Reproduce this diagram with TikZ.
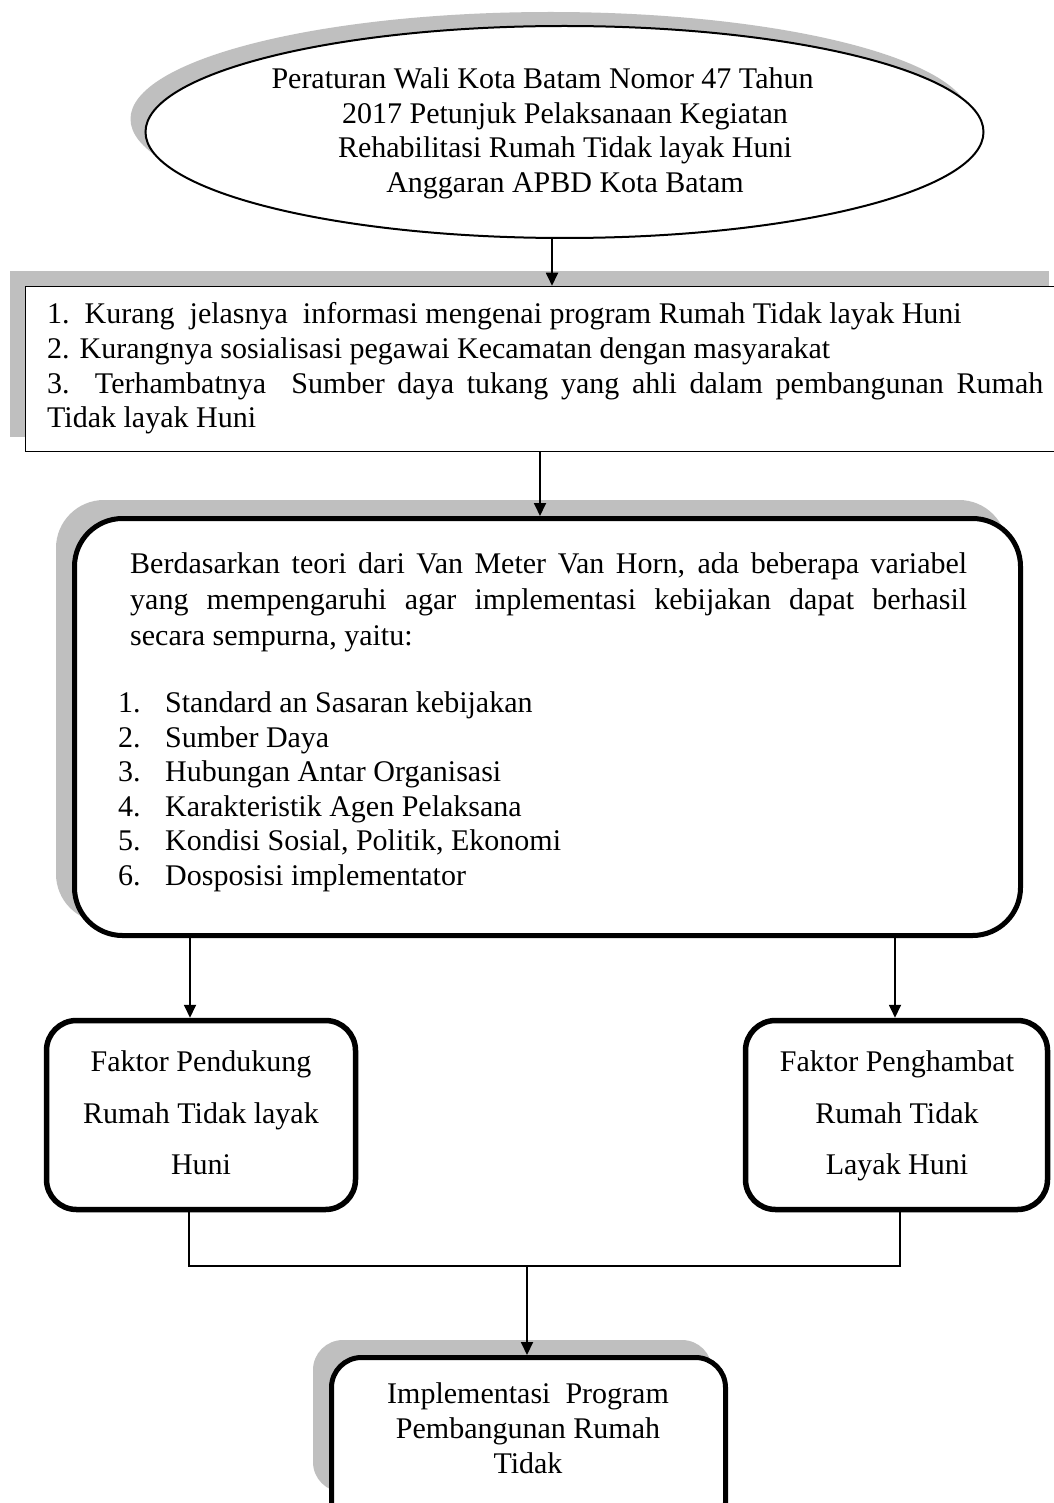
\documentclass[tikz,border=0pt]{standalone}
\usepackage{fontspec}
\setmainfont{Liberation Serif}
\usetikzlibrary{shapes.geometric,arrows.meta}
\begin{document}
\begin{tikzpicture}[x=1pt,y=-1pt,
  txt/.style={font=\fontsize{30}{34.6}\selectfont, inner sep=0pt},
  shadowfill/.style={fill=black!25, draw=none, inner sep=0pt},
  roundbox/.style={rectangle, draw, line width=5.5pt, rounded corners=30pt, inner sep=0pt, fill=white},
  arr/.style={line width=1.8pt, -{Triangle[length=13pt,width=12pt]}},
  conn/.style={line width=1.5pt}]
\useasboundingbox (0,0) rectangle (1053,1503);
\fill[white] (0,0) rectangle (1053,1503);

% ---- top ellipse
\node[ellipse, shadowfill, minimum width=840pt, minimum height=214pt] (ellsh) at (550.5,119) {};
\node[ellipse, draw, line width=2pt, fill=white, minimum width=838pt, minimum height=212pt, inner sep=0pt] (ell) at (564.5,132) {};
\node[txt, anchor=north, align=center] (elltxt) at (565,67.5)
  {Peraturan Wali Kota Batam Nomor 47 Tahun\hspace*{45pt}\\
   2017 Petunjuk Pelaksanaan Kegiatan\\
   Rehabilitasi Rumah Tidak layak Huni\\
   Anggaran APBD Kota Batam};

% ---- box 1
\node[rectangle, shadowfill, minimum width=1039pt, minimum height=166pt] (b1sh) at (529.5,354) {};
\node[rectangle, draw, line width=1.5pt, fill=white, minimum width=1054.5pt, minimum height=165pt, inner sep=0pt] (box1) at (552.75,369) {};
\node[txt, anchor=north west, text width=996pt, align=justify] (b1txt) at (47,302.5)
  {1.\ \ Kurang\ \ jelasnya\ \ informasi mengenai program Rumah Tidak layak Huni\par
   2. Kurangnya sosialisasi pegawai Kecamatan dengan masyarakat\par
   3.\ \ Terhambatnya\ \ Sumber daya tukang yang ahli dalam pembangunan Rumah\linebreak
   Tidak layak Huni\par};

% ---- big rounded box
\node[roundbox, draw=none, fill=black!25, rounded corners=48pt, minimum width=951pt, minimum height=422pt] (bigsh) at (531.5,711) {};
\node[roundbox, line width=5pt, rounded corners=48pt, minimum width=946pt, minimum height=417pt] (big) at (547.5,727) {};
\node[txt, anchor=north west, text width=849pt, align=justify] (bigtxt) at (118,552.5)
  {{\leftskip=12pt\baselineskip=36pt Berdasarkan teori dari Van Meter Van Horn, ada beberapa variabel\linebreak
   yang mempengaruhi agar implementasi kebijakan dapat berhasil\linebreak
   secara sempurna, yaitu:\par}
   \vspace{32.4pt}
   \makebox[47pt][l]{1.}Standard an Sasaran kebijakan\\
   \makebox[47pt][l]{2.}Sumber Daya\\
   \makebox[47pt][l]{3.}Hubungan Antar Organisasi\\
   \makebox[47pt][l]{4.}Karakteristik Agen Pelaksana\\
   \makebox[47pt][l]{5.}Kondisi Sosial, Politik, Ekonomi\\
   \makebox[47pt][l]{6.}Dosposisi implementator};

% ---- factor boxes
\node[roundbox, minimum width=309pt, minimum height=189pt] (left) at (201,1115) {};
\node[txt, anchor=north, align=center, font=\fontsize{30}{51.5}\selectfont] (lefttxt) at (201,1050.5)
  {Faktor Pendukung\\ Rumah Tidak layak\\ Huni};
\node[roundbox, minimum width=302pt, minimum height=189pt] (right) at (896.5,1115) {};
\node[txt, anchor=north, align=center, font=\fontsize{30}{51.5}\selectfont] (righttxt) at (897,1050.5)
  {Faktor Penghambat\\ Rumah Tidak\\ Layak Huni};

% ---- bottom box
\node[roundbox, draw=none, fill=black!25, minimum width=399pt, minimum height=152pt] (botsh) at (512.5,1416) {};
\node[roundbox, line width=5pt, minimum width=394pt, minimum height=175pt] (bot) at (528.5,1445) {};
\node[txt, anchor=north, align=center, font=\fontsize{30}{35}\selectfont] (bottxt) at (528,1382.5)
  {Implementasi\ \ Program\\ Pembangunan Rumah\\ Tidak};

% ---- connectors
\draw[arr] ([xshift=-12.5pt]ell.south) -- ([xshift=-12.5pt]ell.south |- box1.north);
\draw[arr] ([xshift=-12.75pt]box1.south) -- ([xshift=-12.75pt]box1.south |- big.north);
\draw[arr] ([xshift=-11pt]left.north |- big.south) -- ([xshift=-11pt]left.north);
\draw[arr] ([xshift=-1.5pt]right.north |- big.south) -- ([xshift=-1.5pt]right.north);
\coordinate (j) at (527,1266);
\draw[conn] ([xshift=-12pt]left.south) |- (j) -| ([xshift=3.5pt]right.south);
\draw[arr] (j) -- (j |- bot.north);
\end{tikzpicture}
\end{document}
